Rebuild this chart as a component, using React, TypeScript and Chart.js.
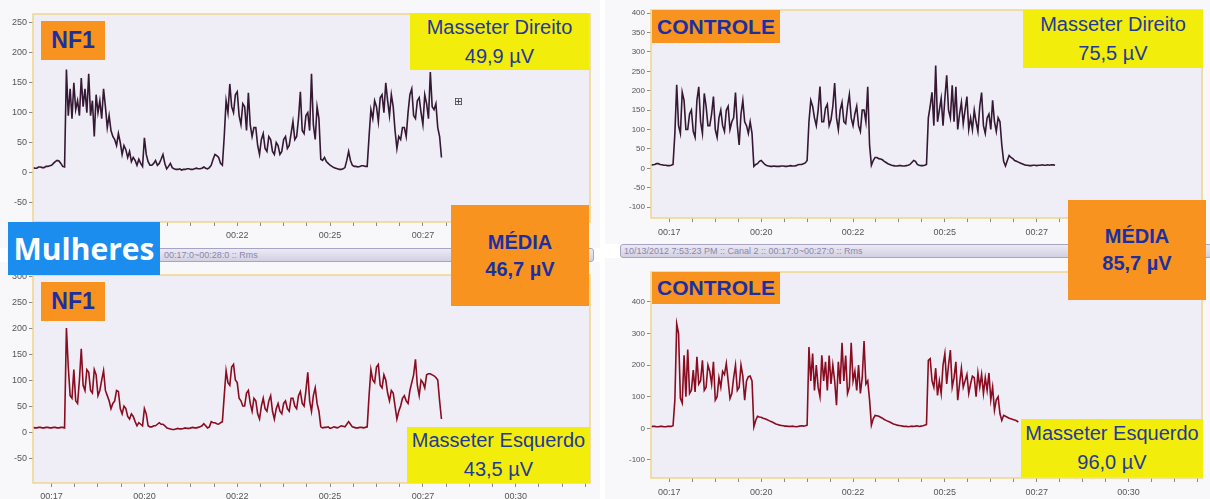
import React, { useEffect, useRef } from "react";
import { Chart, registerables } from "chart.js";

Chart.register(...registerables);

// Sampling of the RMS traces (seconds)
const SAMPLE_START_S = 17.0;
const SAMPLE_STEP_S = 0.05;

// NF1 – Masseter Direito (µV), 17.00 s … 28.00 s (one row = 1 s)
const nf1RightUv = [
  8, 7, 7, 9, 9, 8, 8, 10, 10, 11, 12, 15, 18, 20, 19, 15, 10, 9, 172, 95,
  140, 90, 150, 105, 120, 95, 158, 110, 140, 100, 165, 95, 120, 60, 130, 100, 120, 90, 140, 110,
  75, 95, 70, 60, 55, 45, 65, 50, 30, 45, 38, 25, 35, 18, 25, 20, 12, 22, 15, 10,
  58, 30, 18, 12, 12, 15, 20, 12, 15, 22, 30, 15, 6, 10, 15, 8, 6, 5, 5, 6,
  4, 5, 5, 6, 6, 5, 5, 6, 7, 6, 6, 7, 9, 7, 6, 8, 12, 22, 30, 28,
  25, 15, 12, 60, 120, 100, 148, 110, 100, 130, 135, 95, 80, 115, 110, 70, 133, 80, 60, 75,
  75, 45, 30, 55, 65, 40, 35, 60, 55, 35, 30, 50, 45, 30, 35, 55, 60, 40, 45, 65,
  85, 55, 60, 90, 135, 70, 65, 95, 100, 70, 165, 80, 55, 110, 90, 22, 20, 25, 18, 15,
  12, 10, 8, 7, 6, 5, 5, 6, 8, 20, 35, 20, 12, 10, 10, 9, 10, 11, 11, 10,
  10, 60, 105, 90, 120, 110, 85, 125, 130, 100, 150, 120, 95, 130, 110, 70, 40, 60, 55, 75,
  75, 60, 100, 130, 140, 95, 90, 120, 125, 100, 80, 130, 115, 90, 168, 110, 105, 115, 75, 60,
  25,
];

// NF1 – Masseter Esquerdo (µV), 17.00 s … 28.00 s
const nf1LeftUv = [
  9, 8, 8, 9, 9, 8, 8, 9, 9, 8, 8, 9, 9, 8, 8, 9, 9, 8, 200, 125,
  70, 65, 120, 60, 55, 100, 160, 90, 80, 120, 115, 80, 75, 120, 110, 70, 80, 100, 118, 80,
  70, 60, 45, 55, 60, 80, 78, 45, 35, 50, 45, 30, 25, 35, 30, 20, 12, 18, 15, 12,
  45, 35, 12, 10, 10, 12, 12, 15, 18, 15, 15, 12, 8, 7, 6, 5, 5, 6, 7, 6,
  6, 7, 8, 7, 7, 8, 9, 8, 8, 9, 10, 12, 16, 12, 8, 10, 20, 18, 18, 16,
  15, 18, 20, 70, 118, 95, 90, 125, 130, 100, 95, 65, 60, 50, 50, 75, 80, 55, 40, 65,
  60, 35, 25, 50, 65, 45, 40, 60, 70, 40, 25, 45, 55, 40, 35, 55, 60, 45, 40, 65,
  65, 50, 45, 70, 78, 55, 50, 80, 115, 60, 40, 70, 85, 55, 40, 10, 8, 9, 9, 10,
  7, 8, 10, 9, 8, 10, 12, 11, 10, 15, 20, 15, 10, 9, 8, 8, 9, 9, 8, 9,
  10, 70, 120, 100, 95, 125, 130, 90, 85, 110, 100, 75, 60, 80, 75, 50, 25, 40, 50, 65,
  70, 60, 55, 80, 95, 110, 140, 90, 70, 100, 95, 85, 110, 112, 112, 110, 108, 105, 100, 60,
  25,
];

// CONTROLE – Masseter Direito (µV), 17.00 s … 28.00 s
const controlRightUv = [
  8, 9, 10, 12, 12, 10, 9, 8, 8, 7, 7, 8, 10, 90, 215, 110, 90, 196, 175, 100,
  100, 140, 150, 95, 80, 175, 210, 120, 90, 193, 160, 110, 110, 140, 185, 100, 80, 130, 150, 110,
  95, 150, 160, 100, 120, 130, 195, 110, 60, 140, 175, 120, 110, 90, 120, 90, 5, 10, 12, 18,
  20, 15, 10, 7, 6, 5, 5, 6, 5, 5, 5, 6, 6, 5, 5, 6, 7, 6, 6, 7,
  9, 10, 10, 12, 14, 20, 120, 175, 160, 130, 110, 150, 211, 120, 120, 155, 165, 110, 125, 160,
  220, 130, 100, 150, 170, 120, 115, 160, 190, 130, 110, 140, 160, 110, 95, 150, 150, 120, 210, 60,
  8, 20, 28, 28, 25, 24, 22, 18, 15, 12, 10, 8, 7, 6, 6, 7, 7, 6, 6, 7,
  8, 10, 15, 20, 18, 10, 8, 7, 7, 8, 10, 130, 160, 196, 110, 265, 120, 150, 180, 110,
  180, 240, 150, 130, 214, 120, 210, 100, 140, 170, 115, 150, 185, 100, 130, 100, 150, 120, 95, 160,
  195, 110, 90, 130, 140, 100, 175, 120, 95, 130, 120, 60, 18, 6, 20, 33, 28, 25, 20, 18,
  16, 14, 12, 10, 8, 8, 7, 7, 8, 8, 7, 8, 8, 9, 8, 8, 9, 8, 9, 9,
  8,
];

// CONTROLE – Masseter Esquerdo (µV), 17.00 s … 27.00 s
const controlLeftUv = [
  5, 6, 6, 5, 5, 6, 6, 5, 5, 6, 6, 6, 8, 90, 330, 300, 95, 80, 231, 100,
  249, 110, 120, 184, 115, 226, 140, 150, 215, 120, 130, 200, 180, 140, 210, 89, 100, 160, 130, 180,
  170, 205, 150, 94, 110, 160, 199, 120, 130, 200, 165, 89, 150, 163, 165, 150, 5, 25, 38, 36,
  35, 32, 30, 28, 25, 22, 20, 17, 14, 12, 10, 9, 8, 7, 7, 6, 6, 7, 6, 5,
  6, 7, 8, 7, 8, 10, 257, 150, 236, 120, 200, 130, 100, 231, 150, 210, 120, 230, 140, 200,
  150, 73, 210, 140, 270, 150, 230, 110, 130, 270, 150, 180, 120, 200, 110, 160, 276, 140, 150, 90,
  10, 30, 41, 40, 38, 35, 32, 28, 25, 22, 20, 17, 14, 12, 10, 9, 8, 7, 6, 6,
  5, 6, 7, 6, 7, 8, 6, 7, 8, 10, 12, 215, 220, 150, 130, 190, 104, 150, 110, 200,
  236, 140, 200, 247, 130, 160, 210, 89, 140, 190, 130, 150, 170, 110, 140, 165, 160, 100, 175, 130,
  170, 110, 160, 120, 175, 90, 130, 57, 90, 100, 46, 25, 41, 38, 35, 32, 30, 28, 26, 24,
  20,
];

// Axis ticks
const X_MIN_S = 17;
const X_MAX_S = 32;
const X_TICK_VALUES = [17.5, 20, 22.5, 25, 27.5, 30];
const X_TICK_LABELS = ["00:17", "00:20", "00:22", "00:25", "00:27", "00:30"];
const X_MINOR_TICKS = [
  18.125, 18.75, 19.375, 20.625, 21.25, 21.875, 23.125, 23.75, 24.375,
  25.625, 26.25, 26.875, 28.125, 28.75, 29.375, 30.625, 31.25, 31.875,
];
const NF1_RIGHT_Y_TICKS = [-50, 0, 50, 100, 150, 200, 250];
const NF1_LEFT_Y_TICKS = [-50, 0, 50, 100, 150, 200, 250, 300];
const CONTROL_RIGHT_Y_TICKS = [-100, -50, 0, 50, 100, 150, 200, 250, 300, 350, 400];
const CONTROL_LEFT_Y_TICKS = [-100, 0, 100, 200, 300, 400];

const FONT = '"Liberation Sans", Arial, sans-serif';
const TRACE_DARK = "#351833";
const TRACE_RED = "#8a0c20";
const ORANGE = "#f7931e";
const YELLOW = "#f3ed0b";
const TEXT_BLUE = "#1f3a98";
const TEXT_BLUE_BOLD = "#1c2fa2";

type Area = { left: number; top: number; right: number; bottom: number };

type PanelProps = {
  values: number[];
  color: string;
  yMin: number;
  yMax: number;
  yTicks: number[];
  yFontSize: number;
  xLabelPad: number;
  left: number;
  top: number;
  width: number;
  height: number;
  area: Area;
};

const framePlugin = {
  id: "emgFrame",
  beforeDraw(chart: any) {
    const { ctx, chartArea, width, height } = chart;
    ctx.save();
    ctx.fillStyle = "#f8f8fa";
    ctx.fillRect(0, 0, width, height);
    ctx.fillStyle = "#efedf5";
    ctx.fillRect(chartArea.left, chartArea.top, chartArea.right - chartArea.left, chartArea.bottom - chartArea.top);
    ctx.restore();
  },
  afterDraw(chart: any) {
    const { ctx, chartArea } = chart;
    ctx.save();
    ctx.strokeStyle = "#f0d58c";
    ctx.lineWidth = 1.5;
    ctx.strokeRect(chartArea.left, chartArea.top, chartArea.right - chartArea.left, chartArea.bottom - chartArea.top);
    ctx.restore();
  },
};

function xLabelFor(v: number): string {
  const i = X_TICK_VALUES.findIndex((t) => Math.abs(t - v) < 1e-6);
  return i >= 0 ? X_TICK_LABELS[i] : "";
}

function EmgPanel(p: PanelProps) {
  const ref = useRef<HTMLCanvasElement>(null);
  useEffect(() => {
    if (!ref.current) return;
    const points = p.values.map((v, i) => ({ x: SAMPLE_START_S + i * SAMPLE_STEP_S, y: v }));
    const allX = [...X_TICK_VALUES, ...X_MINOR_TICKS].sort((a, b) => a - b);
    const chart = new Chart(ref.current, {
      type: "line",
      data: {
        datasets: [
          {
            data: points,
            borderColor: p.color,
            borderWidth: 1.6,
            pointRadius: 0,
            tension: 0,
            fill: false,
          },
        ],
      },
      options: {
        animation: false,
        responsive: false,
        events: [],
        layout: { padding: { top: p.area.top, right: p.width - p.area.right, left: 0, bottom: 0 } },
        plugins: { legend: { display: false }, tooltip: { enabled: false } },
        scales: {
          x: {
            type: "linear",
            min: X_MIN_S,
            max: X_MAX_S,
            afterFit: (s: any) => {
              s.height = p.height - p.area.bottom;
            },
            afterBuildTicks: (s: any) => {
              s.ticks = allX.map((v) => ({ value: v }));
            },
            ticks: {
              autoSkip: false,
              maxRotation: 0,
              padding: p.xLabelPad,
              color: "#555",
              font: { family: FONT, size: 9 },
              callback: (v: any) => xLabelFor(Number(v)),
            },
            grid: { drawOnChartArea: false, tickLength: 4, tickColor: "#8a8a8a" },
            border: { display: false },
          },
          y: {
            type: "linear",
            min: p.yMin,
            max: p.yMax,
            afterFit: (s: any) => {
              s.width = p.area.left;
            },
            afterBuildTicks: (s: any) => {
              s.ticks = p.yTicks.map((v) => ({ value: v }));
            },
            ticks: {
              padding: 2,
              color: "#555",
              font: { family: FONT, size: p.yFontSize },
            },
            grid: { drawOnChartArea: false, tickLength: 4, tickColor: "#8a8a8a" },
            border: { display: false },
          },
        },
      } as any,
      plugins: [framePlugin],
    });
    return () => chart.destroy();
  }, []);
  return (
    <canvas
      ref={ref}
      width={p.width}
      height={p.height}
      style={{ position: "absolute", left: p.left, top: p.top, width: p.width, height: p.height }}
    />
  );
}

function Box(props: {
  left: number;
  top: number;
  width: number;
  height: number;
  bg: string;
  children: React.ReactNode;
  style?: React.CSSProperties;
}) {
  return (
    <div
      style={{
        position: "absolute",
        left: props.left,
        top: props.top,
        width: props.width,
        height: props.height,
        background: props.bg,
        display: "flex",
        flexDirection: "column",
        alignItems: "center",
        justifyContent: "center",
        fontFamily: FONT,
        whiteSpace: "nowrap",
        ...props.style,
      }}
    >
      {props.children}
    </div>
  );
}

const valueBoxStyle: React.CSSProperties = { color: TEXT_BLUE, fontSize: 20, lineHeight: "29px" };
const mediaBoxStyle: React.CSSProperties = { color: TEXT_BLUE_BOLD, fontSize: 20, lineHeight: "27px", fontWeight: 700 };
const tagStyle: React.CSSProperties = { color: TEXT_BLUE_BOLD, fontWeight: 700 };

function InfoBar(props: { left: number; top: number; width: number; pad: number; text: string }) {
  return (
    <div
      style={{
        position: "absolute",
        left: props.left,
        top: props.top,
        width: props.width,
        height: 14,
        background: "linear-gradient(#eceaf4, #d3d0e3)",
        border: "1px solid #a7a3c3",
        borderRadius: 3,
        boxSizing: "border-box",
        fontFamily: FONT,
        fontSize: 9,
        lineHeight: "12px",
        color: "#8b87a9",
        paddingLeft: props.pad,
        whiteSpace: "nowrap",
        overflow: "hidden",
      }}
    >
      {props.text}
    </div>
  );
}

export default function App() {
  return (
    <div
      style={{
        position: "absolute",
        left: 0,
        top: 0,
        width: 1210,
        height: 499,
        background: "#ffffff",
        overflow: "hidden",
      }}
    >
      <EmgPanel
        values={nf1RightUv}
        color={TRACE_DARK}
        yMin={-83}
        yMax={265}
        yTicks={NF1_RIGHT_Y_TICKS}
        yFontSize={9}
        xLabelPad={4}
        left={0}
        top={0}
        width={600}
        height={248}
        area={{ left: 33, top: 14, right: 590, bottom: 222 }}
      />
      <EmgPanel
        values={nf1LeftUv}
        color={TRACE_RED}
        yMin={-98}
        yMax={302}
        yTicks={NF1_LEFT_Y_TICKS}
        yFontSize={9}
        xLabelPad={4}
        left={0}
        top={262}
        width={600}
        height={237}
        area={{ left: 33, top: 13, right: 590, bottom: 221 }}
      />
      <EmgPanel
        values={controlRightUv}
        color={TRACE_DARK}
        yMin={-128}
        yMax={408}
        yTicks={CONTROL_RIGHT_Y_TICKS}
        yFontSize={8}
        xLabelPad={5}
        left={605}
        top={0}
        width={605}
        height={244}
        area={{ left: 46, top: 10, right: 597, bottom: 218 }}
      />
      <EmgPanel
        values={controlLeftUv}
        color={TRACE_RED}
        yMin={-157}
        yMax={494}
        yTicks={CONTROL_LEFT_Y_TICKS}
        yFontSize={8}
        xLabelPad={5}
        left={605}
        top={258}
        width={605}
        height={241}
        area={{ left: 46, top: 14, right: 597, bottom: 220 }}
      />

      <InfoBar left={150} top={248} width={444} pad={13} text="00:17:0~00:28:0 :: Rms" />
      <InfoBar left={620} top={244} width={592} pad={3} text="10/13/2012 7:53:23 PM :: Canal 2 :: 00:17:0~00:27:0 :: Rms" />

      <div
        style={{
          position: "absolute",
          left: 454,
          top: 95,
          fontFamily: '"DejaVu Sans", sans-serif',
          fontSize: 11,
          color: "#444",
        }}
      >
        ⊞
      </div>

      {/* Left half (NF1) */}
      <Box left={41} top={21} width={64} height={39} bg={ORANGE} style={{ ...tagStyle, fontSize: 23 }}>
        NF1
      </Box>
      <Box left={410} top={13} width={179} height={57} bg={YELLOW} style={valueBoxStyle}>
        <div>Masseter Direito</div>
        <div>49,9 µV</div>
      </Box>
      <Box left={451} top={205} width={138} height={101} bg={ORANGE} style={mediaBoxStyle}>
        <div>MÉDIA</div>
        <div>46,7 µV</div>
      </Box>
      <Box
        left={8}
        top={222}
        width={152}
        height={53}
        bg="#1b8def"
        style={{ color: "#ffffff", fontFamily: '"Open Sans", sans-serif', fontWeight: 700, fontSize: 30 }}
      >
        Mulheres
      </Box>
      <Box left={41} top={282} width={64} height={39} bg={ORANGE} style={{ ...tagStyle, fontSize: 23 }}>
        NF1
      </Box>
      <Box left={407} top={427} width={183} height={56} bg={YELLOW} style={valueBoxStyle}>
        <div>Masseter Esquerdo</div>
        <div>43,5 µV</div>
      </Box>

      {/* Right half (CONTROLE) */}
      <Box left={652} top={10} width={128} height={33} bg={ORANGE} style={{ ...tagStyle, fontSize: 21 }}>
        CONTROLE
      </Box>
      <Box left={1023} top={10} width={180} height={58} bg={YELLOW} style={valueBoxStyle}>
        <div>Masseter Direito</div>
        <div>75,5 µV</div>
      </Box>
      <Box left={1068} top={200} width={138} height={100} bg={ORANGE} style={mediaBoxStyle}>
        <div>MÉDIA</div>
        <div>85,7 µV</div>
      </Box>
      <Box left={652} top={272} width={128} height={32} bg={ORANGE} style={{ ...tagStyle, fontSize: 21 }}>
        CONTROLE
      </Box>
      <Box left={1021} top={419} width={182} height={58} bg={YELLOW} style={valueBoxStyle}>
        <div>Masseter Esquerdo</div>
        <div>96,0 µV</div>
      </Box>
    </div>
  );
}
